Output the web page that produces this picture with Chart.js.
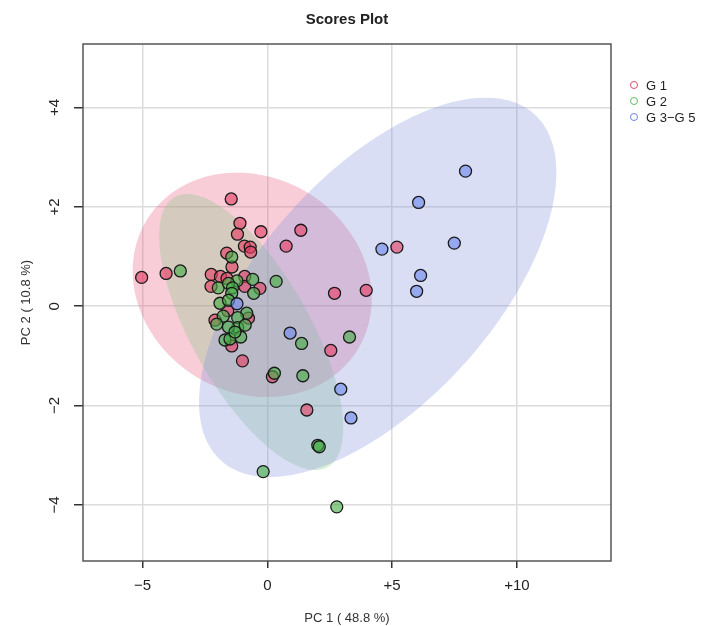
<!DOCTYPE html>
<html>
<head>
<meta charset="utf-8">
<title>Scores Plot</title>
<script src="https://cdn.jsdelivr.net/npm/chart.js@4.4.0/dist/chart.umd.min.js"></script>
<style>
  html, body { margin: 0; padding: 0; background: #fff; }
  #wrap { position: relative; width: 707px; height: 626px; }
  #legend { position: absolute; left: 630px; top: 78px; font: 13px "Liberation Sans", Arial, sans-serif; color: #222; }
  #legend div { height: 16px; line-height: 16px; white-space: nowrap; }
  #legend .dot { display: inline-block; width: 6px; height: 6px; border: 1.5px solid; border-radius: 50%; margin-right: 8px; vertical-align: 1px; }
</style>
</head>
<body>
<div id="wrap">
  <canvas id="chart" width="707" height="626"></canvas>
  <div id="legend"></div>
</div>
<script>
// ---- dados ----
const groupNames = ["G 1", "G 2", "G 3\u2212G 5"];

const g1Points = [
  [-5.04, 0.58], [-4.06, 0.66], [-1.45, 2.16], [-1.10, 1.67], [-1.20, 1.45],
  [-0.26, 1.50], [1.34, 1.53], [0.75, 1.21], [-0.92, 1.21], [-0.69, 1.19],
  [-0.67, 1.09], [-1.63, 1.07], [-1.42, 0.79], [-2.25, 0.64], [-1.88, 0.60],
  [-1.62, 0.56], [-0.91, 0.60], [-2.26, 0.40], [-0.30, 0.36], [-0.91, 0.40],
  [-1.59, -0.09], [-2.10, -0.28], [-0.76, -0.24], [-1.43, -0.80], [-1.00, -1.10],
  [0.20, -1.42], [2.69, 0.26], [3.96, 0.32], [2.54, -0.89], [1.58, -2.09],
  [5.19, 1.19]
];
const g2Points = [
  [-3.49, 0.71], [-1.43, 0.99], [-0.59, 0.54], [-1.22, 0.51], [-1.97, 0.37],
  [-1.56, 0.46], [-1.40, 0.37], [-0.55, 0.26], [-1.43, 0.26], [0.35, 0.50],
  [-1.90, 0.06], [-1.56, 0.12], [-0.83, -0.14], [-1.77, -0.20], [-2.03, -0.36],
  [-1.19, -0.23], [-1.19, -0.43], [-1.56, -0.42], [-0.89, -0.38], [-1.70, -0.68],
  [-1.50, -0.66], [-1.07, -0.62], [-1.30, -0.52], [1.37, -0.75], [3.29, -0.62],
  [1.42, -1.40], [0.28, -1.35], [2.02, -2.80], [2.08, -2.83], [-0.17, -3.33],
  [2.78, -4.04]
];
const g3Points = [
  [7.94, 2.72], [6.06, 2.09], [7.49, 1.27], [6.14, 0.62], [5.98, 0.30],
  [4.59, 1.15], [0.91, -0.54], [2.94, -1.67], [3.35, -2.25], [-1.22, 0.05]
];

// elipses de confiança: centro, desvios e correlação
const ellCx = [-0.61, -0.65, 4.42];
const ellCy = [0.43, -0.52, 0.38];
const ellSx = [4.79, 3.69, 7.16];
const ellSy = [2.26, 2.78, 3.82];
const ellR  = [-0.125, -0.695, 0.605];

const xTicks = [-5, 0, 5, 10];
const yTicks = [-4, -2, 0, 2, 4];

// ---- estilos ----
const pointFill = ["rgba(228,62,100,0.62)", "rgba(70,172,70,0.62)", "rgba(110,135,235,0.62)"];
const legendColor = ["#e0486a", "#5dbb5d", "#6c83e0"];
const ellFill = ["rgba(232,88,125,0.3)", "rgba(130,200,130,0.3)", "rgba(128,145,222,0.3)"];
const FONT = "'Liberation Sans', Arial, sans-serif";

const fmt = v => v > 0 ? "+" + v : v < 0 ? "\u2212" + (-v) : "0";

// Elipses desenhadas atrás dos pontos
const ellipsePlugin = {
  id: "ellipses",
  beforeDatasetsDraw(chart) {
    const { ctx, chartArea: a, scales: { x, y } } = chart;
    ctx.save();
    ctx.beginPath();
    ctx.rect(a.left, a.top, a.right - a.left, a.bottom - a.top);
    ctx.clip();
    ellCx.forEach((cx, i) => {
      ctx.beginPath();
      for (let k = 0; k <= 160; k++) {
        const t = k / 160 * 2 * Math.PI;
        const dx = ellSx[i] * Math.cos(t);
        const dy = ellSy[i] * (ellR[i] * Math.cos(t) + Math.sqrt(1 - ellR[i] * ellR[i]) * Math.sin(t));
        const px = x.getPixelForValue(cx + dx);
        const py = y.getPixelForValue(ellCy[i] + dy);
        if (k === 0) ctx.moveTo(px, py); else ctx.lineTo(px, py);
      }
      ctx.closePath();
      ctx.fillStyle = ellFill[i];
      ctx.fill();
    });
    ctx.restore();
  }
};

// Moldura do gráfico
const framePlugin = {
  id: "frame",
  afterDraw(chart) {
    const { ctx, chartArea: a } = chart;
    ctx.save();
    ctx.strokeStyle = "#555";
    ctx.lineWidth = 1.5;
    ctx.strokeRect(a.left, a.top, a.right - a.left, a.bottom - a.top);
    ctx.restore();
  }
};

const toXY = pts => pts.map(p => ({ x: p[0], y: p[1] }));

new Chart(document.getElementById("chart"), {
  type: "scatter",
  data: {
    datasets: [g1Points, g2Points, g3Points].map((pts, i) => ({
      label: groupNames[i],
      data: toXY(pts),
      backgroundColor: pointFill[i],
      borderColor: "#1a1a1a",
      borderWidth: 1.3,
      pointRadius: 6,
      order: 3 - i
    }))
  },
  options: {
    responsive: false,
    animation: false,
    layout: { padding: { right: 96 } },
    plugins: {
      legend: { display: false },
      tooltip: { enabled: false },
      title: {
        display: true,
        text: "Scores Plot",
        fullSize: false,
        color: "#222",
        font: { family: FONT, size: 15, weight: "bold" },
        padding: { top: 11, bottom: 15 }
      }
    },
    scales: {
      x: {
        type: "linear",
        min: -7.39,
        max: 13.77,
        afterBuildTicks: s => { s.ticks = xTicks.map(v => ({ value: v })); },
        afterFit: s => { s.height = 65; },
        border: { display: false },
        grid: { color: "#dcdcdc", lineWidth: 1.5, tickColor: "#333", tickLength: 7, tickWidth: 1.5 },
        ticks: { color: "#222", font: { family: FONT, size: 15 }, padding: 9, maxRotation: 0, callback: fmt },
        title: { display: true, text: "PC 1 ( 48.8 %)", color: "#333", font: { family: FONT, size: 13 }, padding: 0 }
      },
      y: {
        type: "linear",
        min: -5.13,
        max: 5.28,
        afterBuildTicks: s => { s.ticks = yTicks.map(v => ({ value: v })); },
        afterFit: s => { s.width = 83; },
        border: { display: false },
        grid: { color: "#dcdcdc", lineWidth: 1.5, tickColor: "#333", tickLength: 9, tickWidth: 1.5 },
        ticks: { color: "#222", font: { family: FONT, size: 15 }, padding: 11, minRotation: 90, maxRotation: 90, crossAlign: "center", callback: fmt },
        title: { display: true, text: "PC 2 ( 10.8 %)", color: "#333", font: { family: FONT, size: 13 }, padding: { top: 19, bottom: 0 } }
      }
    }
  },
  plugins: [ellipsePlugin, framePlugin]
});

// Legenda em HTML
const legend = document.getElementById("legend");
groupNames.forEach((name, i) => {
  const row = document.createElement("div");
  row.innerHTML = `<span class="dot" style="border-color:${legendColor[i]}"></span>${name}`;
  legend.appendChild(row);
});
</script>
</body>
</html>
